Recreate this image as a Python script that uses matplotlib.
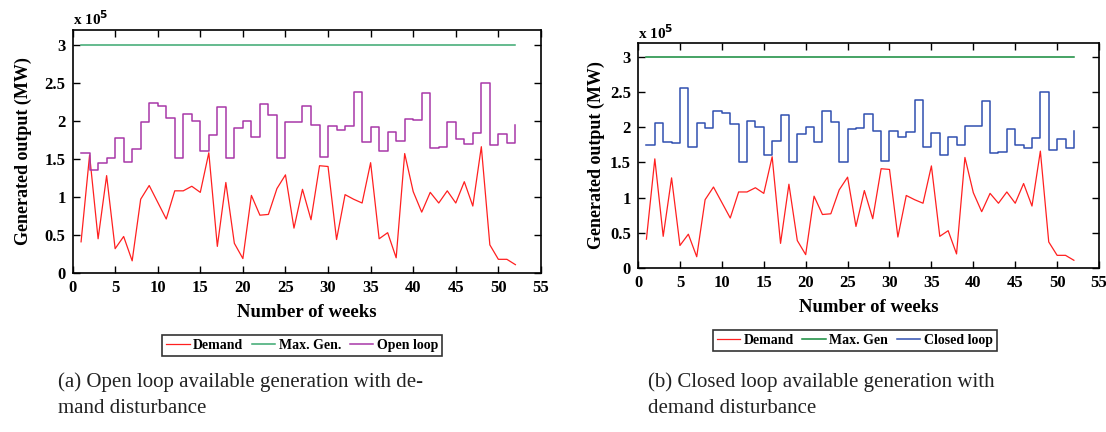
import matplotlib
matplotlib.use("Agg")
import matplotlib.pyplot as plt
from matplotlib.ticker import FuncFormatter

# weekly data, values in units of 1e5 MW
weeks = list(range(1, 53))
demand = [0.41, 1.55, 0.45, 1.28, 0.32, 0.48, 0.16, 0.97, 1.15, 0.93,
          0.71, 1.08, 1.08, 1.14, 1.06, 1.58, 0.35, 1.19, 0.39, 0.19,
          1.02, 0.76, 0.77, 1.11, 1.29, 0.59, 1.10, 0.70, 1.41, 1.40,
          0.44, 1.03, 0.97, 0.92, 1.45, 0.45, 0.53, 0.20, 1.57, 1.07,
          0.80, 1.06, 0.92, 1.08, 0.92, 1.20, 0.88, 1.66, 0.37, 0.18,
          0.18, 0.11]
max_gen = [3.0] * 52
open_loop = [1.58, 1.35, 1.44, 1.51, 1.78, 1.46, 1.63, 1.99, 2.23, 2.20,
             2.04, 1.51, 2.09, 2.00, 1.60, 1.82, 2.18, 1.51, 1.91, 2.00,
             1.79, 2.22, 2.08, 1.51, 1.98, 1.99, 2.19, 1.95, 1.53, 1.93,
             1.875, 1.93, 2.38, 1.72, 1.92, 1.61, 1.85, 1.74, 2.02, 2.01,
             2.36, 1.64, 1.65, 1.98, 1.76, 1.70, 1.84, 2.50, 1.68, 1.83,
             1.71, 1.94]
closed_loop = [1.75, 2.06, 1.79, 1.78, 2.56, 1.72, 2.06, 1.99, 2.23, 2.20,
               2.04, 1.51, 2.09, 2.00, 1.60, 1.81, 2.18, 1.51, 1.91, 2.00,
               1.79, 2.23, 2.07, 1.51, 1.98, 1.99, 2.19, 1.95, 1.52, 1.94,
               1.865, 1.93, 2.38, 1.72, 1.92, 1.61, 1.86, 1.74, 2.02, 2.01,
               2.37, 1.64, 1.65, 1.98, 1.75, 1.70, 1.84, 2.50, 1.68, 1.83,
               1.71, 1.94]
SCALE = 1e5

plt.rcParams['font.family'] = 'serif'
plt.rcParams['font.serif'] = ['Liberation Serif', 'DejaVu Serif']
plt.rcParams['font.weight'] = 'bold'


def fmt(x, pos):
    return f"{x / SCALE:g}"


def setup(ax, ypad):
    ax.set_xlim(0, 55)
    ax.set_ylim(0, 3.2 * SCALE)
    ax.set_xticks(range(0, 56, 5))
    ax.set_yticks([v * SCALE for v in (0, 0.5, 1, 1.5, 2, 2.5, 3)])
    ax.yaxis.set_major_formatter(FuncFormatter(fmt))
    ax.tick_params(direction='in', top=True, right=True, length=5,
                   width=1, labelsize=12, pad=5)
    for s in ax.spines.values():
        s.set_linewidth(1.2)
    ax.set_xlabel('Number of weeks', fontsize=13.5, fontweight='bold',
                  labelpad=6)
    ax.set_ylabel('Generated output (MW)', fontsize=13, fontweight='bold',
                  labelpad=ypad)
    ax.text(0, 1.005, r'x 10$^5$', transform=ax.transAxes, fontsize=11,
            fontweight='bold', ha='left', va='bottom')


def legend(ax, x, y):
    leg = ax.legend(loc='upper center', bbox_to_anchor=(x, y), ncol=3,
                    frameon=True, fancybox=False, edgecolor='black',
                    fontsize=10, handlelength=1.7, handletextpad=0.25,
                    columnspacing=0.6, borderpad=0.3, borderaxespad=0)
    leg.get_frame().set_linewidth(1.2)


fig = plt.figure(figsize=(11.06, 4.32), dpi=100)
ax1 = fig.add_axes([0.0656, 0.368, 0.4235, 0.5637])
ax2 = fig.add_axes([0.5769, 0.3796, 0.4168, 0.5216])

d = [v * SCALE for v in demand]
m = [v * SCALE for v in max_gen]

ax1.plot(weeks, d, color='#ff2020', lw=0.9, label='Demand')
ax1.plot(weeks, m, color='#3aa870', lw=1.1, label='Max. Gen.')
ax1.plot(weeks, [v * SCALE for v in open_loop], color='#a838a8', lw=1.1,
         drawstyle='steps-post', label='Open loop')
setup(ax1, 9)
legend(ax1, 0.49, -0.255)

ax2.plot(weeks, d, color='#ff2020', lw=0.9, label='Demand')
ax2.plot(weeks, m, color='#138a3a', lw=1.1, label='Max. Gen')
ax2.plot(weeks, [v * SCALE for v in closed_loop], color='#3050b0', lw=1.1,
         drawstyle='steps-post', label='Closed loop')
setup(ax2, 4)
legend(ax2, 0.47, -0.275)

cap = dict(fontsize=15, fontweight='normal', color='#222222', va='baseline')
fig.text(58 / 1106, 1 - 387 / 432,
         '(a) Open loop available generation with de-', **cap)
fig.text(58 / 1106, 1 - 413 / 432, 'mand disturbance', **cap)
fig.text(648 / 1106, 1 - 387 / 432,
         '(b) Closed loop available generation with', **cap)
fig.text(648 / 1106, 1 - 413 / 432, 'demand disturbance', **cap)

fig.savefig('out.png', dpi=100)
